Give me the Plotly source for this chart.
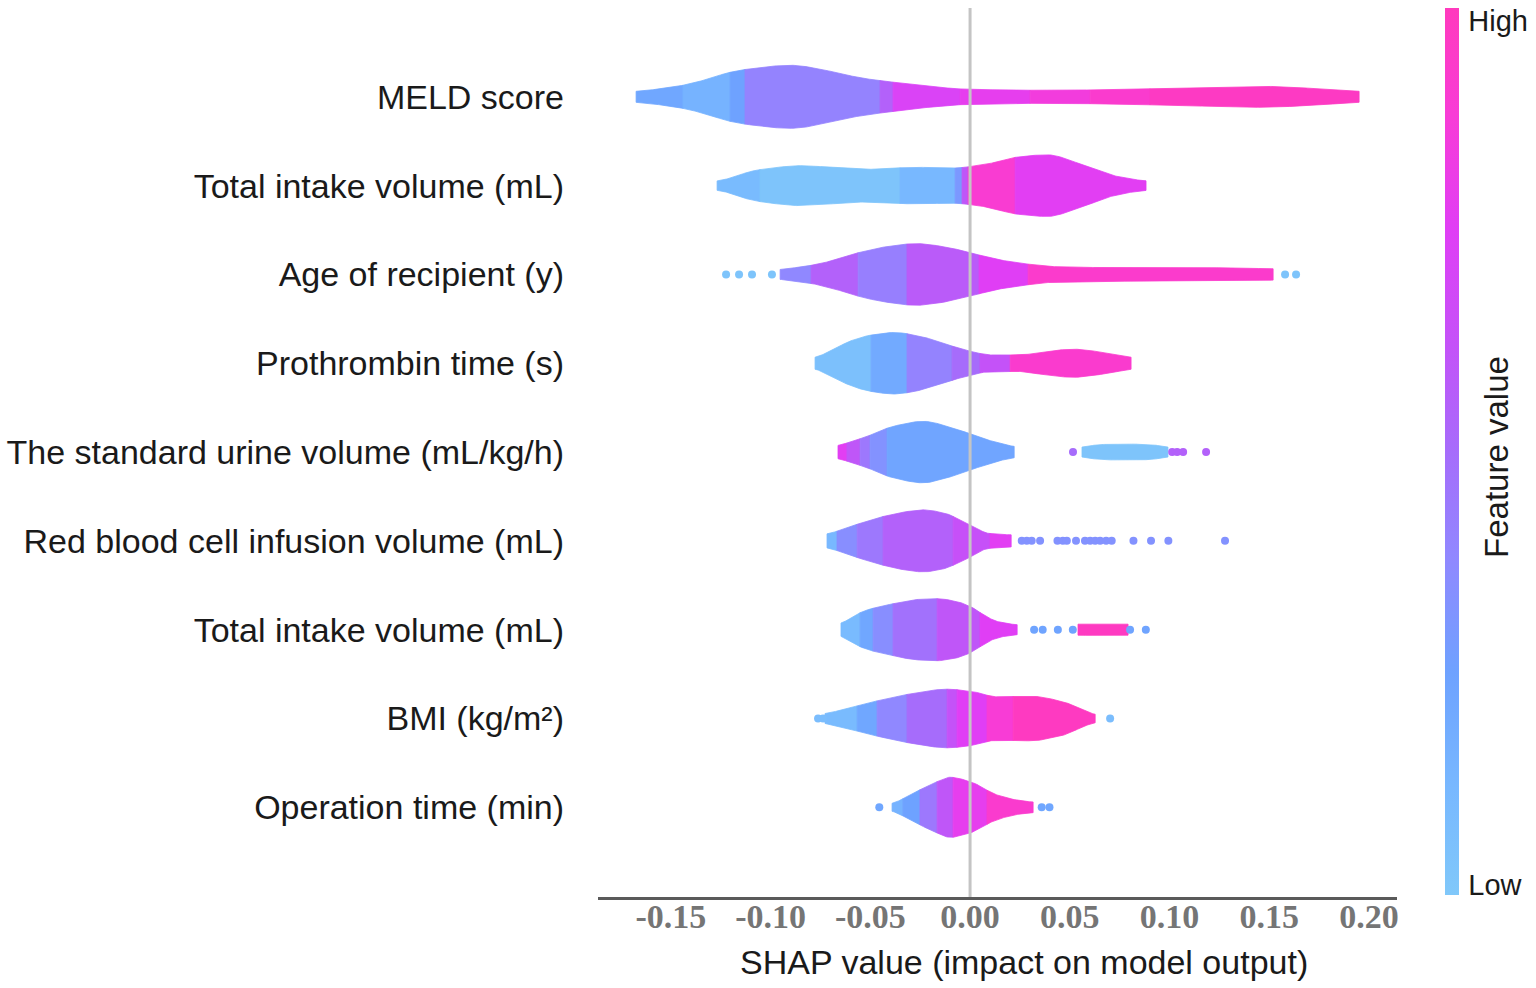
import numpy as np
import plotly.graph_objects as go
from plotly.colors import sample_colorscale

# ---------------- data ----------------
FEATURES = [
    "MELD score",
    "Total intake volume (mL)",
    "Age of recipient (y)",
    "Prothrombin time (s)",
    "The standard urine volume (mL/kg/h)",
    "Red blood cell infusion volume (mL)",
    "Total intake volume (mL)",
    "BMI (kg/m²)",
    "Operation time (min)",
]
X_TICKS = [-0.15, -0.10, -0.05, 0.00, 0.05, 0.10, 0.15, 0.20]
X_TICK_TEXT = ["-0.15", "-0.10", "-0.05", "0.00", "0.05", "0.10", "0.15", "0.20"]
X_TITLE = "SHAP value (impact on model output)"
CBAR_TITLE = "Feature value"

# violin outline knots: SHAP value, half-width (fraction of row spacing)
meld_x = [-0.1674, -0.1554, -0.1439, -0.1328, -0.1203, -0.1103, -0.0902, -0.0687, -0.0551, -0.0401,
          -0.0185, 0.0, 0.0401, 0.0652, 0.0902, 0.1103, 0.1454, 0.1754, 0.1950]
meld_w = [0.062, 0.090, 0.130, 0.191, 0.276, 0.315, 0.355, 0.282, 0.214, 0.169,
          0.113, 0.084, 0.073, 0.079, 0.090, 0.101, 0.118, 0.090, 0.062]
meld_band_x = [-0.1674, -0.1439, -0.1203, -0.1128, -0.0451, -0.0386, -0.0050, 0.0301, 0.0602, 0.0902, 0.1950]
meld_band_v = [0.22, 0.15, 0.25, 0.40, 0.55, 0.72, 0.78, 0.85, 0.92, 0.97]

tiv1_x = [-0.1268, -0.1178, -0.1103, -0.0977, -0.0852, -0.0677, -0.0516, -0.0266, -0.0100, 0.0065,
          0.0236, 0.0386, 0.0566, 0.0737, 0.0882]
tiv1_w = [0.053, 0.101, 0.158, 0.203, 0.225, 0.203, 0.184, 0.206, 0.197, 0.234,
          0.321, 0.347, 0.234, 0.104, 0.054]
tiv1_band_x = [-0.1268, -0.1053, -0.0351, -0.0075, -0.0040, -0.0010, 0.0226, 0.0882]
tiv1_band_v = [0.10, 0.03, 0.12, 0.30, 0.60, 0.90, 0.76]

age_x = [-0.0952, -0.0852, -0.0762, -0.0662, -0.0561, -0.0426, -0.0271, -0.0125, 0.0, 0.0150,
         0.0291, 0.0401, 0.0581, 0.0917, 0.1253, 0.1519]
age_w = [0.056, 0.084, 0.116, 0.175, 0.244, 0.310, 0.347, 0.310, 0.244, 0.163,
         0.116, 0.090, 0.079, 0.075, 0.075, 0.064]
age_band_x = [-0.0952, -0.0797, -0.0561, -0.0316, 0.0045, 0.0291, 0.1519]
age_band_v = [0.38, 0.55, 0.42, 0.58, 0.75, 0.93]
age_dot_x = [-0.1223, -0.1158, -0.1093, -0.0993, 0.1579, 0.1634]
age_dot_v = [0.03, 0.03, 0.03, 0.03, 0.03, 0.03]

pt_x = [-0.0777, -0.0702, -0.0607, -0.0501, -0.0381, -0.0251, -0.0135, 0.0, 0.0110, 0.0246,
        0.0376, 0.0516, 0.0692, 0.0807]
pt_w = [0.068, 0.135, 0.244, 0.315, 0.346, 0.304, 0.225, 0.135, 0.093, 0.093,
        0.130, 0.158, 0.113, 0.068]
pt_band_x = [-0.0777, -0.0496, -0.0316, -0.0090, 0.0050, 0.0201, 0.0807]
pt_band_v = [0.06, 0.20, 0.40, 0.50, 0.62, 0.92]

urine_x = [-0.0662, -0.0602, -0.0516, -0.0386, -0.0236, -0.0085, 0.0085, 0.0221]
urine_w = [0.075, 0.113, 0.177, 0.289, 0.346, 0.270, 0.139, 0.064]
urine_band_x = [-0.0662, -0.0617, -0.0551, -0.0501, -0.0416, 0.0221]
urine_band_v = [0.76, 0.60, 0.45, 0.33, 0.23]
urine2_x = [0.0561, 0.0652, 0.0777, 0.0902, 0.0992]
urine2_w = [0.056, 0.084, 0.090, 0.084, 0.056]
urine2_band_x = [0.0561, 0.0992]
urine2_band_v = [0.03]
urine_dot_x = [0.0516, 0.1013, 0.1038, 0.1068, 0.1183]
urine_dot_v = [0.50, 0.55, 0.55, 0.55, 0.55]

rbc_x = [-0.0717, -0.0602, -0.0436, -0.0326, -0.0236, -0.0125, -0.0050, 0.0025, 0.0085, 0.0206]
rbc_w = [0.079, 0.161, 0.274, 0.327, 0.349, 0.310, 0.236, 0.158, 0.087, 0.068]
rbc_band_x = [-0.0717, -0.0667, -0.0566, -0.0436, -0.0085, 0.0100, 0.0206]
rbc_band_v = [0.12, 0.35, 0.45, 0.55, 0.63, 0.76]
rbc_dot_x = [0.0259, 0.0284, 0.0309, 0.0351, 0.0438, 0.0465, 0.0485, 0.0531, 0.0576, 0.0602,
             0.0627, 0.0652, 0.0682, 0.0710, 0.0819, 0.0907, 0.0994, 0.1278]
rbc_dot_v = [0.33] * 18

tiv2_x = [-0.0647, -0.0602, -0.0536, -0.0366, -0.0276, -0.0165, -0.0075, 0.0, 0.0075, 0.0135, 0.0236]
tiv2_w = [0.075, 0.124, 0.206, 0.301, 0.338, 0.349, 0.321, 0.262, 0.158, 0.093, 0.056]
tiv2_band_x = [-0.0647, -0.0551, -0.0486, -0.0386, -0.0165, 0.0050, 0.0236]
tiv2_band_v = [0.10, 0.22, 0.35, 0.48, 0.60, 0.75]
tiv2b_x = [0.0541, 0.0667, 0.0792]
tiv2b_w = [0.062, 0.068, 0.062]
tiv2b_band_x = [0.0541, 0.0792]
tiv2b_band_v = [0.98]
tiv2_dot_x = [0.0321, 0.0364, 0.0440, 0.0515, 0.0802, 0.0881]
tiv2_dot_v = [0.24] * 6

bmi_x = [-0.0727, -0.0617, -0.0451, -0.0286, -0.0115, 0.0015, 0.0135, 0.0301, 0.0466, 0.0586, 0.0627]
bmi_w = [0.056, 0.113, 0.206, 0.282, 0.330, 0.301, 0.244, 0.251, 0.188, 0.075, 0.048]
bmi_band_x = [-0.0727, -0.0566, -0.0466, -0.0316, -0.0115, -0.0065, 0.0085, 0.0216, 0.0627]
bmi_band_v = [0.10, 0.22, 0.38, 0.50, 0.62, 0.75, 0.88, 0.98]
bmi_dot_x = [-0.0762, -0.0737, 0.0702]
bmi_dot_v = [0.08, 0.08, 0.08]

op_x = [-0.0391, -0.0286, -0.0165, -0.0100, 0.0, 0.0135, 0.0251, 0.0316]
op_w = [0.045, 0.158, 0.289, 0.338, 0.289, 0.139, 0.075, 0.060]
op_band_x = [-0.0391, -0.0336, -0.0251, -0.0165, -0.0085, 0.0085, 0.0316]
op_band_v = [0.15, 0.25, 0.45, 0.60, 0.78, 0.92]
op_dot_x = [-0.0455, 0.0359, 0.0398]
op_dot_v = [0.22, 0.22, 0.22]

COLORSCALE = [
    [0.00, "#80C8FA"],
    [0.12, "#78B8FF"],
    [0.25, "#6EA2FF"],
    [0.38, "#9088FF"],
    [0.50, "#A66CFB"],
    [0.62, "#C452F8"],
    [0.75, "#E03EF5"],
    [0.88, "#F83CD6"],
    [1.00, "#FF3ABD"],
]

VIOLINS = [
    (0, meld_x, meld_w, meld_band_x, meld_band_v),
    (1, tiv1_x, tiv1_w, tiv1_band_x, tiv1_band_v),
    (2, age_x, age_w, age_band_x, age_band_v),
    (3, pt_x, pt_w, pt_band_x, pt_band_v),
    (4, urine_x, urine_w, urine_band_x, urine_band_v),
    (4, urine2_x, urine2_w, urine2_band_x, urine2_band_v),
    (5, rbc_x, rbc_w, rbc_band_x, rbc_band_v),
    (6, tiv2_x, tiv2_w, tiv2_band_x, tiv2_band_v),
    (6, tiv2b_x, tiv2b_w, tiv2b_band_x, tiv2b_band_v),
    (7, bmi_x, bmi_w, bmi_band_x, bmi_band_v),
    (8, op_x, op_w, op_band_x, op_band_v),
]
DOTS = [
    (2, age_dot_x, age_dot_v),
    (4, urine_dot_x, urine_dot_v),
    (5, rbc_dot_x, rbc_dot_v),
    (6, tiv2_dot_x, tiv2_dot_v),
    (7, bmi_dot_x, bmi_dot_v),
    (8, op_dot_x, op_dot_v),
]


# ---------------- rendering helpers ----------------
def pchip(xk, yk, xs):
    xk = np.asarray(xk, float)
    yk = np.asarray(yk, float)
    xs = np.asarray(xs, float)
    n = len(xk)
    h = np.diff(xk)
    delta = np.diff(yk) / h
    d = np.zeros(n)
    if n == 2:
        d[:] = delta[0]
    else:
        for k in range(1, n - 1):
            if delta[k - 1] * delta[k] > 0:
                w1 = 2 * h[k] + h[k - 1]
                w2 = h[k] + 2 * h[k - 1]
                d[k] = (w1 + w2) / (w1 / delta[k - 1] + w2 / delta[k])
        d[0] = delta[0] * 0.5
        d[-1] = delta[-1] * 0.5
    idx = np.clip(np.searchsorted(xk, xs, side="right") - 1, 0, n - 2)
    t = (xs - xk[idx]) / h[idx]
    h00 = 2 * t**3 - 3 * t**2 + 1
    h10 = t**3 - 2 * t**2 + t
    h01 = -2 * t**3 + 3 * t**2
    h11 = t**3 - t**2
    return (h00 * yk[idx] + h10 * h[idx] * d[idx]
            + h01 * yk[idx + 1] + h11 * h[idx] * d[idx + 1])


fig = go.Figure()

for row, kx, kw, bx, bv in VIOLINS:
    colors = sample_colorscale(COLORSCALE, bv)
    for j, v in enumerate(bv):
        a, b = bx[j], bx[j + 1]
        n = max(2, int((b - a) / 0.0006) + 2)
        xs = np.linspace(a, b, n)
        hw = pchip(kx, kw, xs)
        px = np.concatenate([xs, xs[::-1], xs[:1]])
        py = np.concatenate([row - hw, (row + hw)[::-1], [row - hw[0]]])
        fig.add_trace(go.Scatter(
            x=px, y=py, mode="lines", fill="toself",
            fillcolor=colors[j], line=dict(color=colors[j], width=0.8),
            hoverinfo="skip", showlegend=False))

for row, dx, dv in DOTS:
    fig.add_trace(go.Scatter(
        x=dx, y=[row] * len(dx), mode="markers",
        marker=dict(size=8, color=dv, colorscale=COLORSCALE, cmin=0, cmax=1,
                    line=dict(width=0)),
        hoverinfo="skip", showlegend=False))

# colour bar
fig.add_trace(go.Scatter(
    x=[None, None], y=[None, None], mode="markers", showlegend=False, hoverinfo="skip",
    marker=dict(color=[0, 1], colorscale=COLORSCALE, cmin=0, cmax=1, showscale=True,
                colorbar=dict(
                    thickness=14, thicknessmode="pixels",
                    len=887, lenmode="pixels",
                    x=1445 / 1536, xref="container", xanchor="left", xpad=0,
                    y=1.0, yref="paper", yanchor="top", ypad=0,
                    outlinewidth=0, ticks="outside", ticklen=4, tickcolor="rgba(0,0,0,0)",
                    tickvals=[0.011, 0.986], ticktext=["Low", "High"],
                    tickfont=dict(family="Liberation Sans", size=29, color="#1a1a1a"),
                ))))

fig.add_shape(type="line", xref="x", yref="paper", x0=0, x1=0, y0=0, y1=1,
              line=dict(color="#c4c4c4", width=3), layer="above")

fig.add_annotation(text=CBAR_TITLE, xref="paper", yref="paper",
                   x=(1497 - 598) / 799, y=0.495, xanchor="center", yanchor="middle",
                   textangle=-90, showarrow=False,
                   font=dict(family="Liberation Sans", size=33, color="#1a1a1a"))

fig.add_annotation(text=X_TITLE, xref="paper", yref="paper",
                   x=(1023.5 - 598) / 799, y=(897 - 962) / 889,
                   xanchor="center", yanchor="middle", showarrow=False,
                   font=dict(family="Liberation Sans", size=34, color="#1a1a1a"))

fig.update_layout(
    width=1536, height=988,
    margin=dict(l=598, r=139, t=8, b=91),
    paper_bgcolor="white", plot_bgcolor="white",
    xaxis=dict(
        range=[-0.1865, 0.214], tickmode="array", tickvals=X_TICKS, ticktext=X_TICK_TEXT,
        showgrid=False, zeroline=False, showline=True, linecolor="#5a5a5a", linewidth=3,
        ticks="", ticklabelstandoff=-13,
        tickfont=dict(family="Liberation Serif", size=34, color="#757575", weight="bold"),
    ),
    yaxis=dict(
        range=[9.01, -1.0], tickmode="array", tickvals=list(range(len(FEATURES))),
        ticktext=FEATURES, showgrid=False, zeroline=False, showline=False, ticks="",
        ticklabelstandoff=33,
        tickfont=dict(family="Liberation Sans", size=34, color="#1a1a1a"),
    ),
)

fig.write_html("out.html", config={"displayModeBar": False},
               post_script="document.body.style.margin='0px';")
